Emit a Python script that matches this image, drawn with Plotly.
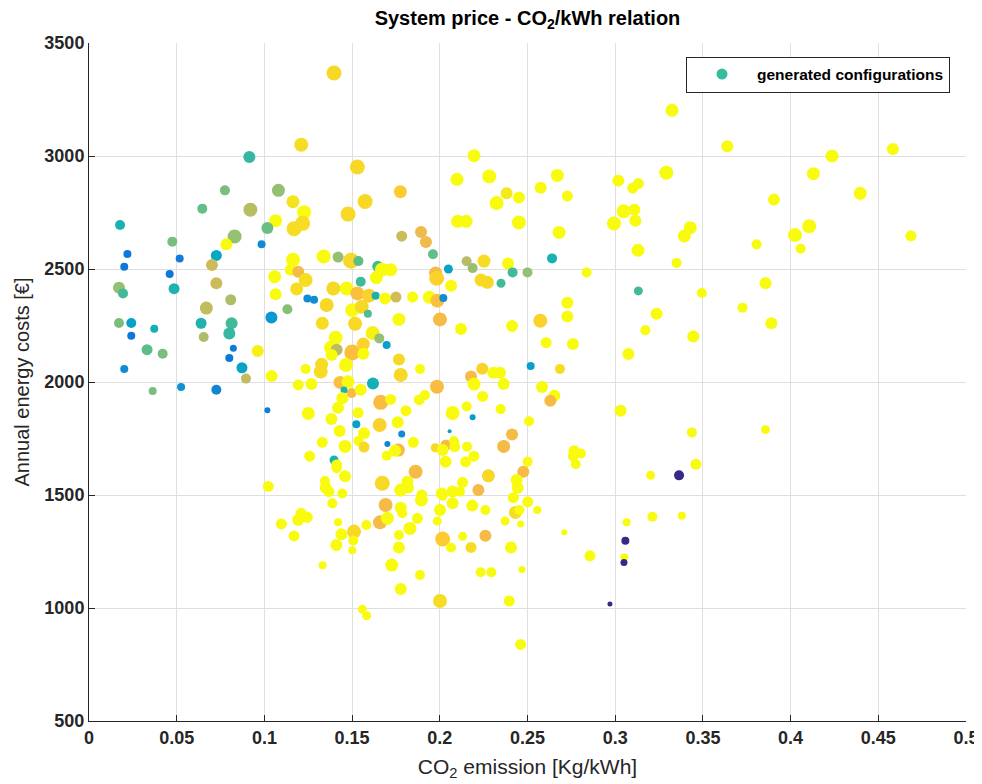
import plotly.graph_objects as go

# ---------------- data ----------------
co2_emission = [
    # upper-left block
    0.1397, 0.1210, 0.0914, 0.1530, 0.0775, 0.1080, 0.0646, 0.0920, 0.1163, 0.1574,
    0.1226, 0.1477, 0.1064, 0.1218, 0.1169, 0.0177, 0.1017, 0.0830, 0.0783, 0.0475,
    0.0984, 0.0219, 0.0517, 0.0726, 0.0201, 0.0701, 0.0460, 0.1163, 0.1338, 0.1420,
    0.1494, 0.1536, 0.1646, 0.1150, 0.1193, 0.1670,
    # upper-middle block
    0.3324, 0.2195, 0.1775, 0.2098, 0.2282, 0.2381, 0.2451, 0.2324, 0.2575, 0.2670,
    0.2727, 0.3018, 0.3100, 0.3132, 0.3291, 0.2102, 0.2150, 0.2451, 0.2680, 0.3048,
    0.3109, 0.3115, 0.2993, 0.3130, 0.1893, 0.1783, 0.1921, 0.1961, 0.2640, 0.2153,
    0.2252, 0.2389, 0.2187, 0.2049, 0.1976, 0.1720, 0.2415, 0.2500, 0.2837, 0.3350,
    # upper-right block
    0.3639, 0.4583, 0.4236, 0.4130, 0.4397, 0.3905, 0.3428, 0.3394, 0.4106, 0.4025,
    0.3806, 0.4057, 0.4686,
    # middle-left block
    0.0171, 0.0194, 0.0485, 0.0726, 0.0808, 0.0669, 0.0171, 0.0241, 0.0241, 0.0372,
    0.0331, 0.0420, 0.0201, 0.0363, 0.0525, 0.0726, 0.0639, 0.0654, 0.0813, 0.0800,
    0.0823, 0.0800, 0.0872, 0.0895, 0.0962, 0.1041, 0.1017, 0.1040, 0.1058, 0.1064,
    0.1131, 0.1184, 0.1235, 0.1245, 0.1283, 0.1355, 0.1330, 0.1393, 0.1469, 0.1530,
    0.1596, 0.1501, 0.1555, 0.1590, 0.1634, 0.1638, 0.1688, 0.1549, 0.1517, 0.1617,
    0.1655, 0.1697, 0.1406, 0.1380, 0.1412, 0.1501, 0.1564, 0.1564, 0.1383, 0.1465,
    0.1235, 0.1321, 0.1326, 0.1193, 0.1268, 0.1431, 0.1477, 0.1497, 0.1454, 0.1549,
    0.1619, 0.1663, 0.1657, 0.1444, 0.1420, 0.1382, 0.1534, 0.1524, 0.1429, 0.1568,
    0.1536, 0.1568, 0.1460, 0.1330, 0.1250, 0.1258, 0.1397, 0.1412, 0.1412, 0.1460,
    0.1345, 0.1349, 0.1672, 0.1697, 0.1701, 0.1022, 0.1444, 0.1368,
    # centre block
    0.1982, 0.2235, 0.2271, 0.2349, 0.3132, 0.2064, 0.1845, 0.1750, 0.1940, 0.1986,
    0.2020, 0.1767, 0.2001, 0.2121, 0.2412, 0.2573, 0.2727, 0.2727, 0.3236, 0.3172,
    0.3075, 0.2606, 0.2759, 0.1767, 0.1887, 0.1777, 0.2518, 0.2685, 0.2178, 0.2242,
    0.2305, 0.2343, 0.2195, 0.2364, 0.1984, 0.2583, 0.2653, 0.2630, 0.2244, 0.1720,
    0.1883, 0.1915, 0.1807, 0.2073, 0.2153, 0.2347, 0.3031, 0.2187, 0.2056, 0.2509,
    0.1760, 0.1783, 0.1849, 0.2412, 0.2364, 0.2035, 0.2081, 0.2085, 0.1974, 0.2016,
    0.2155, 0.1764, 0.1745, 0.2195, 0.2147, 0.2033, 0.2765, 0.2805, 0.2761, 0.2775,
    0.2501, 0.2476, 0.3202, 0.3364, 0.1862, 0.1815, 0.2277, 0.2130, 0.2438, 0.2444,
    0.2220, 0.2073, 0.2011, 0.1777, 0.1897,
    # lower-left block
    0.1387, 0.1209, 0.1193, 0.1245, 0.1097, 0.1169, 0.1420, 0.1439, 0.1410, 0.1511,
    0.1507, 0.1501, 0.1581, 0.1659, 0.1691, 0.1701, 0.1332, 0.1558, 0.1583,
    # lower-middle block
    0.1821, 0.1777, 0.1786, 0.1895, 0.1872, 0.1830, 0.1767, 0.1767, 0.1726, 0.1887,
    0.1777, 0.2016, 0.2115, 0.2001, 0.2073, 0.2185, 0.2260, 0.1986, 0.2016, 0.2064,
    0.2130, 0.2178, 0.2260, 0.2233, 0.2294, 0.2001, 0.2396, 0.2461, 0.2406, 0.2469,
    0.2372, 0.2461, 0.2431, 0.2454, 0.2419, 0.2501, 0.2556, 0.2710, 0.2856, 0.3065,
    0.3212, 0.3380, 0.3058, 0.3052, 0.3050, 0.2970,
    # right block
    0.3857, 0.3494, 0.3726, 0.3890, 0.3445, 0.3857, 0.3437, 0.3460,
]

annual_cost = [
    3367, 3050, 2996, 2951, 2848, 2848, 2767, 2762, 2798, 2799,
    2751, 2743, 2714, 2702, 2678, 2695, 2681, 2644, 2609, 2621,
    2609, 2566, 2547, 2560, 2510, 2518, 2478, 2541, 2555, 2553,
    2537, 2535, 2512, 2497, 2488, 2497,
    3202, 3001, 2842, 2897, 2909, 2835, 2816, 2792, 2860, 2914,
    2823, 2891, 2858, 2878, 2926, 2711, 2711, 2706, 2662, 2755,
    2762, 2714, 2701, 2583, 2664, 2645, 2619, 2565, 2547, 2534,
    2535, 2524, 2504, 2500, 2482, 2497, 2485, 2485, 2485, 2527,
    3043, 3031, 3000, 2922, 2835, 2807, 2683, 2646, 2689, 2650,
    2609, 2590, 2647,
    2417, 2392, 2413, 2437, 2364, 2327, 2261, 2261, 2205, 2236,
    2143, 2125, 2058, 1960, 1978, 1966, 2260, 2199, 2260, 2215,
    2149, 2106, 2063, 2015, 2137, 2026, 1875, 2285, 2466, 2388,
    2322, 2412, 2451, 2370, 2364, 2341, 2260, 2414, 2414, 2392,
    2382, 2318, 2333, 2302, 2382, 2462, 2370, 2444, 2258, 2217,
    2193, 2164, 2196, 2152, 2143, 2131, 2168, 2125, 2119, 2075,
    2058, 2046, 2078, 1987, 1991, 1998, 2001, 1951, 1965, 1966,
    1993, 1910, 1810, 1928, 1886, 1836, 1864, 1813, 1783, 1773,
    1739, 1712, 1715, 1733, 1861, 1672, 1655, 1633, 1618, 1583,
    1562, 1532, 1552, 1674, 1726, 1538, 1507, 1515,
    2459, 2451, 2441, 2437, 2403, 2426, 2376, 2376, 2375, 2360,
    2372, 2277, 2277, 2235, 2248, 2271, 2351, 2290, 2302, 2229,
    2124, 2174, 2168, 2100, 2058, 2031, 2071, 2058, 2024, 2059,
    2041, 2041, 1991, 1991, 1979, 1978, 1939, 1917, 1936, 1923,
    1922, 1942, 1873, 1863, 1892, 1880, 1873, 1844, 1782, 1826,
    1822, 1770, 1733, 1768, 1715, 1721, 1739, 1714, 1709, 1699,
    1714, 1699, 1696, 1672, 1647, 1647, 1696, 1684, 1672, 1636,
    1647, 1603, 1587, 1587, 1603, 1559, 1585, 1556, 1566, 1532,
    1522, 1515, 1507, 1522, 1500,
    1463, 1419, 1389, 1401, 1372, 1319, 1379, 1326, 1279, 1338,
    1299, 1255, 1367, 1379, 1456, 1397, 1189, 994, 966,
    1532, 1444, 1419, 1478, 1397, 1352, 1323, 1268, 1190, 1146,
    1084, 1497, 1515, 1434, 1463, 1453, 1434, 1385, 1305, 1268,
    1317, 1268, 1320, 1158, 1158, 1031, 1031, 839, 1268, 1170,
    1385, 1372, 1423, 1434, 1488, 1470, 1434, 1335, 1231, 1379,
    1404, 1408, 1298, 1223, 1201, 1018,
    2437, 2394, 2329, 2260, 2201, 1789, 1777, 1636,
]

# bubble size variable (rendered as marker diameter)
system_size = [
    15, 14, 12, 15, 10, 13, 10, 14, 13, 15,
    14, 15, 13, 15, 15, 10, 12, 14, 12, 10,
    8, 8, 8, 11, 8, 12, 8, 14, 14, 11,
    16, 10, 11, 12, 12, 14,
    13, 13, 13, 13, 14, 12, 12, 14, 12, 13,
    11, 12, 11, 11, 14, 13, 13, 14, 13, 14,
    12, 12, 14, 13, 12, 11, 12, 10, 10, 10,
    13, 12, 10, 9, 13, 13, 10, 10, 10, 10,
    12, 12, 13, 13, 13, 12, 13, 13, 14, 14,
    10, 10, 11,
    12, 10, 11, 12, 11, 13, 10, 10, 8, 8,
    11, 10, 8, 8, 8, 10, 11, 10, 12, 12,
    7, 8, 11, 10, 12, 12, 6, 12, 13, 12,
    10, 13, 14, 8, 8, 14, 13, 14, 14, 14,
    14, 14, 14, 8, 8, 13, 12, 10, 14, 14,
    10, 8, 14, 14, 12, 16, 13, 12, 12, 14,
    10, 14, 13, 11, 12, 13, 13, 10, 7, 12,
    12, 15, 14, 12, 12, 12, 11, 8, 12, 12,
    10, 11, 13, 11, 13, 11, 9, 11, 10, 12,
    10, 12, 15, 10, 6, 11, 10, 11,
    15, 13, 13, 9, 9, 12, 11, 11, 13, 14,
    8, 13, 14, 12, 12, 14, 12, 12, 12, 10,
    12, 11, 12, 12, 10, 14, 8, 10, 12, 12,
    12, 12, 13, 12, 14, 12, 12, 12, 11, 11,
    11, 10, 11, 14, 10, 10, 12, 6, 4, 10,
    12, 7, 11, 12, 13, 11, 10, 11, 9, 12,
    10, 13, 12, 11, 11, 12, 11, 10, 11, 10,
    10, 12, 9, 10, 14, 12, 13, 11, 12, 12,
    12, 12, 12, 13, 11,
    10, 11, 12, 11, 11, 11, 8, 12, 12, 14,
    10, 8, 10, 14, 14, 13, 8, 9, 9,
    11, 12, 10, 13, 11, 13, 10, 12, 13, 10,
    12, 10, 10, 12, 12, 12, 10, 9, 15, 10,
    9, 11, 12, 10, 10, 14, 11, 11, 12, 7,
    9, 7, 13, 10, 11, 11, 8, 6, 11, 8,
    10, 8, 8, 8, 7, 5,
    12, 10, 10, 12, 12, 9, 10, 11,
]

# colour variable (0..1, mapped through parula)
color_index = [
    .92, .93, .50, .92, .60, .64, .57, .70, .95, .92,
    1, .92, 1, .93, .93, .45, .58, .64, 1, .60,
    .27, .20, .22, .38, .20, .74, .20, 1, 1, .64,
    .92, .56, .52, 1, .82, 1,
    1, 1, .88, 1, 1, .96, 1, 1, 1, 1,
    1, 1, 1, 1, 1, 1, 1, 1, 1, 1,
    1, 1, 1, 1, .80, .73, .81, .57, .45, .70,
    .93, 1, .65, .37, .82, 1, .52, .64, 1, 1,
    1, 1, 1, 1, 1, 1, 1, 1, 1, 1,
    1, 1, 1,
    .64, .52, .46, .74, .68, .72, .60, .35, .20, .43,
    .56, .60, .28, .60, .30, .25, .46, .68, .52, .50,
    .22, .20, .37, .72, .98, 1, .22, .32, 1, 1,
    .62, .93, .93, .28, .28, .92, .93, .92, 1, .84,
    .90, 1, .92, .54, .45, 1, 1, .52, .92, .98,
    .64, .35, 1, 1, .70, .84, .90, 1, 1, 1,
    1, .93, .93, 1, 1, .84, 1, .83, .45, 1,
    .44, .83, .90, 1, 1, 1, 1, .36, 1, 1,
    1, .92, 1, 1, 1, 1, .45, 1, 1, 1,
    1, 1, .92, 1, .25, 1, 1, 1,
    .90, .92, .92, .52, .52, 1, 1, .75, 1, .84,
    .28, 1, .82, 1, 1, .90, 1, 1, 1, 1,
    1, 1, 1, .92, 1, .92, .35, .93, .82, .90,
    1, 1, 1, 1, .83, 1, 1, .82, 1, 1,
    1, 1, 1, 1, 1, 1, 1, .33, .37, 1,
    1, .27, 1, .82, .82, .82, 1, 1, .92, 1,
    1, .82, 1, 1, 1, 1, 1, 1, 1, 1,
    1, .82, 1, 0, .82, 1, .92, 1, 1, 1,
    .82, 1, 1, 1, 1,
    1, 1, 1, 1, 1, 1, 1, 1, 1, .92,
    1, 1, 1, .82, .82, 1, 1, 1, 1,
    1, 1, 1, 1, 1, 1, 1, 1, 1, 1,
    1, 1, 1, 1, 1, 1, 1, 1, .88, 1,
    1, .93, .82, 1, 1, .93, 1, 1, 1, 1,
    1, 1, .93, 1, 1, 1, 1, 1, 1, 1,
    1, 1, 0, 1, 0, 0,
    1, 1, 1, 1, 1, 1, 1, 1,
]

x_ticks = [0, 0.05, 0.1, 0.15, 0.2, 0.25, 0.3, 0.35, 0.4, 0.45, 0.5]
x_tick_labels = ["0", "0.05", "0.1", "0.15", "0.2", "0.25", "0.3", "0.35", "0.4", "0.45", "0.5"]
y_ticks = [500, 1000, 1500, 2000, 2500, 3000, 3500]

assert len(co2_emission) == len(annual_cost) == len(system_size) == len(color_index)

# ---------------- parula colormap ----------------
parula_pts = [
    (1, 0.2081, 0.1663, 0.5292), (5, 0.1959, 0.2645, 0.7279), (9, 0.0117, 0.3875, 0.8820),
    (13, 0.0498, 0.4586, 0.8641), (17, 0.0793, 0.5200, 0.8312), (21, 0.0343, 0.5966, 0.8199),
    (25, 0.0228, 0.6535, 0.7768), (29, 0.0843, 0.6928, 0.7062), (33, 0.2178, 0.7250, 0.6193),
    (37, 0.3953, 0.7459, 0.5244), (41, 0.5709, 0.7485, 0.4494), (45, 0.7184, 0.7411, 0.3905),
    (49, 0.8507, 0.7299, 0.3360), (53, 0.9739, 0.7314, 0.2666), (55, 0.9990, 0.7653, 0.2164),
    (57, 0.9880, 0.8066, 0.1794), (59, 0.9697, 0.8481, 0.1475), (61, 0.9589, 0.8949, 0.1132),
    (63, 0.9661, 0.9514, 0.0755), (64, 0.9763, 0.9831, 0.0538),
]
parula = [[(i - 1) / 63, f"rgb({r*255:.0f},{g*255:.0f},{b*255:.0f})"] for i, r, g, b in parula_pts]

FONT = "Liberation Sans, Arial, Helvetica, sans-serif"
AX = "#262626"

# the page body adds an 8px offset; the figure is sized to fit the window with it
W, H = 974, 776

fig = go.Figure()
fig.add_trace(go.Scatter(
    x=co2_emission, y=annual_cost, mode="markers", showlegend=False,
    marker=dict(size=system_size, color=color_index, colorscale=parula,
                cmin=0, cmax=1, showscale=False, line=dict(width=0), opacity=1),
    hoverinfo="x+y",
))
fig.add_trace(go.Scatter(
    x=[None], y=[None], mode="markers", name="generated configurations",
    marker=dict(size=11, color="rgb(56,188,158)"),
))

fig.update_layout(
    width=W, height=H,
    margin=dict(l=81, r=16, t=35, b=63, autoexpand=False),
    plot_bgcolor="white", paper_bgcolor="white",
    title=dict(text="<b>System price - CO<sub>2</sub>/kWh relation</b>",
               x=519.5 / W, xanchor="center", y=1 - 10 / H, yanchor="middle",
               automargin=False,
               font=dict(family=FONT, size=20, color="black")),
    xaxis=dict(range=[0, 0.5], tickvals=x_ticks, ticktext=x_tick_labels, automargin=False,
               showgrid=True, gridcolor="#dfdfdf", gridwidth=1, zeroline=False,
               showline=True, linecolor=AX, linewidth=1, mirror=False,
               ticks="inside", ticklen=6, tickcolor=AX, tickwidth=1,
               tickfont=dict(family=FONT, size=18, color=AX, weight="bold"),
               title=dict(text="CO<sub>2</sub> emission [Kg/kWh]", standoff=12,
                          font=dict(family=FONT, size=21, color=AX))),
    yaxis=dict(range=[500, 3500], tickvals=y_ticks, automargin=False,
               showgrid=True, gridcolor="#dfdfdf", gridwidth=1, zeroline=False,
               showline=True, linecolor=AX, linewidth=1, mirror=False,
               ticks="inside", ticklen=6, tickcolor=AX, tickwidth=1,
               tickfont=dict(family=FONT, size=18, color=AX, weight="bold"),
               title=dict(text="Annual energy costs [€]", standoff=9,
                          font=dict(family=FONT, size=20, color=AX))),
    legend=dict(x=(950 - 89) / 877, y=1 - (56.5 - 43) / 678, xanchor="right", yanchor="top",
                bgcolor="white", bordercolor=AX, borderwidth=1, itemwidth=60,
                font=dict(family=FONT, size=15.5, color="black", weight="bold")),
)

fig.write_html("out.html")
